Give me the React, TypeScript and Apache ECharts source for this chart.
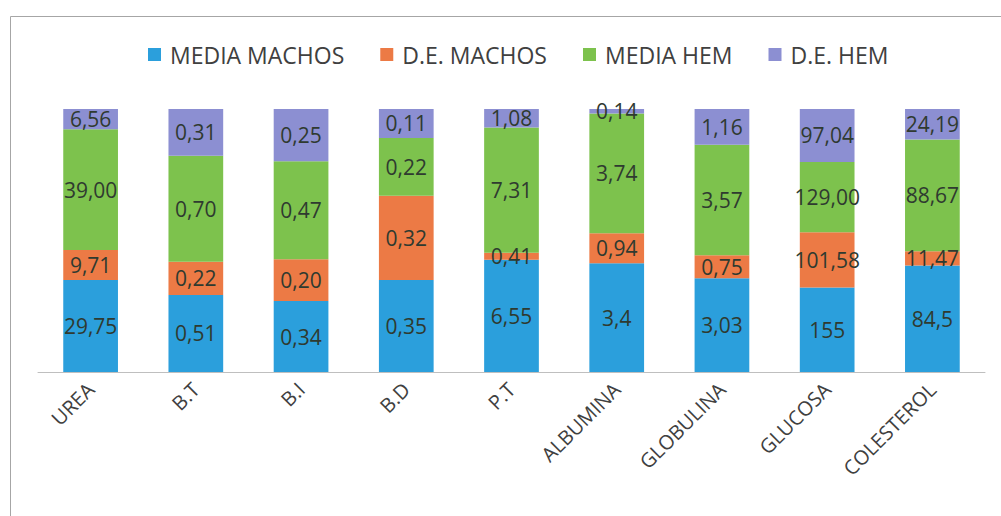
import React, { useEffect, useRef } from "react";
import * as echarts from "echarts";

const categories = ["UREA", "B.T", "B.I", "B.D", "P.T", "ALBUMINA", "GLOBULINA", "GLUCOSA", "COLESTEROL"];
const seriesNames = ["MEDIA MACHOS", "D.E. MACHOS", "MEDIA HEM", "D.E. HEM"];
const mediaMachos = [29.75, 0.51, 0.34, 0.35, 6.55, 3.4, 3.03, 155, 84.5];
const deMachos = [9.71, 0.22, 0.2, 0.32, 0.41, 0.94, 0.75, 101.58, 11.47];
const mediaHem = [39.0, 0.7, 0.47, 0.22, 7.31, 3.74, 3.57, 129.0, 88.67];
const deHem = [6.56, 0.31, 0.25, 0.11, 1.08, 0.14, 1.16, 97.04, 24.19];
const mediaMachosLabels = ["29,75", "0,51", "0,34", "0,35", "6,55", "3,4", "3,03", "155", "84,5"];
const deMachosLabels = ["9,71", "0,22", "0,20", "0,32", "0,41", "0,94", "0,75", "101,58", "11,47"];
const mediaHemLabels = ["39,00", "0,70", "0,47", "0,22", "7,31", "3,74", "3,57", "129,00", "88,67"];
const deHemLabels = ["6,56", "0,31", "0,25", "0,11", "1,08", "0,14", "1,16", "97,04", "24,19"];
const colors = ["#2b9fdc", "#ec7a45", "#7dc24d", "#8c8fd2"];

export default function App() {
  const ref = useRef<HTMLDivElement>(null);
  useEffect(() => {
    document.body.style.margin = "0";
    if (!ref.current) return;
    const chart = echarts.init(ref.current, null, { renderer: "svg" });
    const values = [mediaMachos, deMachos, mediaHem, deHem];
    const labels = [mediaMachosLabels, deMachosLabels, mediaHemLabels, deHemLabels];
    const totals = categories.map((_, i) => values.reduce((s, arr) => s + arr[i], 0));
    const font = "'Open Sans', 'Noto Sans', sans-serif";
    chart.setOption({
      animation: false,
      backgroundColor: "#ffffff",
      textStyle: { fontFamily: font },
      graphic: [
        {
          type: "rect",
          shape: { x: 10.5, y: 16.5, width: 1010, height: 520 },
          style: { fill: "none", stroke: "#a6a6a6", lineWidth: 1 },
          silent: true,
        },
      ],
      legend: {
        top: 38,
        left: 143,
        itemWidth: 13,
        itemHeight: 13,
        itemGap: 36,
        icon: "rect",
        textStyle: { fontSize: 23, color: "#404040", fontFamily: font, padding: [0, 0, 0, 4] },
        data: seriesNames,
      },
      grid: { left: 38, right: 16, top: 109, bottom: 144, containLabel: false },
      xAxis: {
        type: "category",
        data: categories,
        axisLine: { lineStyle: { color: "#bfbfbf", width: 1 } },
        axisTick: { show: false },
        axisLabel: { rotate: 45, fontSize: 20, color: "#404040", margin: 14, fontFamily: font },
      },
      yAxis: {
        type: "value",
        min: 0,
        max: 100,
        show: false,
        splitLine: { show: false },
      },
      series: seriesNames.map((name, s) => ({
        name,
        type: "bar",
        stack: "total",
        barWidth: "52%",
        itemStyle: { color: colors[s] },
        label: {
          show: true,
          position: "inside",
          fontSize: 21,
          color: "#2f3a30",
          fontFamily: font,
          formatter: (p: any) => labels[s][p.dataIndex],
        },
        data: values[s].map((v, i) => (v / totals[i]) * 100),
      })),
    });
    return () => chart.dispose();
  }, []);
  return <div ref={ref} style={{ width: 1001, height: 516 }} />;
}
